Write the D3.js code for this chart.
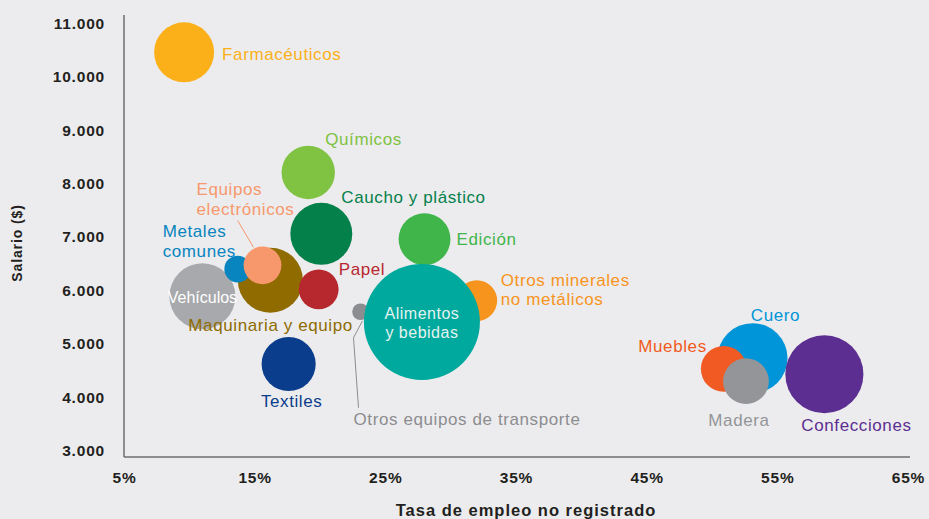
<!DOCTYPE html>
<html>
<head>
<meta charset="utf-8">
<script src="https://cdn.jsdelivr.net/npm/d3@7"></script>
<style>
  html, body { margin: 0; padding: 0; background: #ececee; }
  svg { display: block; }
  text { font-family: "Liberation Sans", Arial, Helvetica, sans-serif; }
</style>
</head>
<body>
<svg id="chart" width="929" height="519"></svg>
<script>
// ---- Data ----
const sectors = ["Farmacéuticos","Químicos","Caucho y plástico","Edición","Vehículos","Maquinaria y equipo","Metales comunes","Equipos electrónicos","Papel","Otros equipos de transporte","Otros minerales no metálicos","Alimentos y bebidas","Textiles","Cuero","Confecciones","Muebles","Madera"];
const informalRate = [9.6, 19.1, 20.1, 28.0, 11.0, 16.2, 13.7, 15.6, 19.9, 23.1, 32.0, 27.8, 17.6, 53.1, 58.6, 50.9, 52.6];
const salary = [10450, 8200, 7050, 6950, 5880, 6180, 6390, 6460, 6010, 5590, 5800, 5400, 4610, 4720, 4420, 4520, 4290];
const employment = [91, 72, 97, 68, 110, 107, 18, 36, 40, 7, 42, 340, 74, 124, 154, 53, 53];
const xTicks = [5, 15, 25, 35, 45, 55, 65];
const yTicks = [3000, 4000, 5000, 6000, 7000, 8000, 9000, 10000, 11000];
const xTitle = "Tasa de empleo no registrado";
const yTitle = "Salario ($)";

// ---- Styles / layout ----
const colors = ["#fbb01a","#80c242","#04804a","#3fb54a","#a7a9ac","#8f6b00","#0884bf","#f7986c","#b7282e","#8c8d90","#f7941d","#00a99d","#0a3d8b","#0095d8","#5c2e91","#f15a22","#939598"];
const labelLayout = {
  "Farmacéuticos": {dx: 38, dy: 2, anchor: "start"},
  "Químicos": {dx: 17, dy: -33, anchor: "start"},
  "Caucho y plástico": {dx: 20, dy: -37, anchor: "start"},
  "Edición": {dx: 32, dy: 0, anchor: "start"},
  "Vehículos": {dx: 0, dy: 1, anchor: "middle", inside: true, color: "#ffffff"},
  "Maquinaria y equipo": {dx: -82, dy: 45, anchor: "start"},
  "Metales comunes": {dx: -75, dy: -38, anchor: "start", lines: ["Metales","comunes"]},
  "Equipos electrónicos": {dx: -66, dy: -76, anchor: "start", lines: ["Equipos","electrónicos"], leader: [[-25,-45],[-9,-18]]},
  "Papel": {dx: 20, dy: -20, anchor: "start"},
  "Otros equipos de transporte": {dx: -7, dy: 107, anchor: "start", leader: [[2,9],[-7,26],[-2,96]]},
  "Otros minerales no metálicos": {dx: 24, dy: -21, anchor: "start", lines: ["Otros minerales","no metálicos"]},
  "Alimentos y bebidas": {dx: 0, dy: -9, anchor: "middle", lines: ["Alimentos","y bebidas"], inside: true, color: "#e4f3f1"},
  "Textiles": {dx: 3, dy: 37, anchor: "middle"},
  "Cuero": {dx: 23, dy: -43, anchor: "middle"},
  "Confecciones": {dx: -23, dy: 51, anchor: "start"},
  "Muebles": {dx: -17, dy: -23, anchor: "end"},
  "Madera": {dx: -7, dy: 39, anchor: "middle"}
};

const data = sectors.map((s, i) => ({name: s, x: informalRate[i], y: salary[i], size: employment[i], color: colors[i]}));

const svg = d3.select("#chart");
const x = d3.scaleLinear().domain([5, 65]).range([124, 908]);
const y = d3.scaleLinear().domain([3000, 11000]).range([450, 23]);
const r = d3.scaleSqrt().domain([0, 340]).range([0, 58]);
const esFormat = d3.formatLocale({decimal: ",", thousands: ".", grouping: [3], currency: ["$", ""]}).format(",");

// Axis lines
svg.append("line")
  .attr("x1", x(5)).attr("x2", x(5))
  .attr("y1", y(11150)).attr("y2", y(2870))
  .attr("stroke", "#6d6e71").attr("stroke-width", 1.5);
svg.append("line")
  .attr("x1", x(5)).attr("x2", x(65.15))
  .attr("y1", y(2870)).attr("y2", y(2870))
  .attr("stroke", "#6d6e71").attr("stroke-width", 1.5);

// Y axis ticks
const yAxis = svg.append("g")
  .attr("transform", `translate(${x(5) - 19},0)`)
  .call(d3.axisLeft(y).tickValues(yTicks).tickSize(0).tickPadding(0).tickFormat(esFormat));
yAxis.select(".domain").remove();
yAxis.selectAll("text")
  .attr("fill", "#231f20").attr("font-size", 15.5).attr("font-weight", "bold")
  .attr("letter-spacing", 0.8).attr("dy", "0.35em")
  .style("font-family", '"Liberation Sans", Arial, sans-serif');

// X axis ticks
const xAxis = svg.append("g")
  .attr("transform", `translate(0,${y(2870) + 15})`)
  .call(d3.axisBottom(x).tickValues(xTicks).tickSize(0).tickPadding(0).tickFormat(d => d + "%"));
xAxis.select(".domain").remove();
xAxis.selectAll("text")
  .attr("fill", "#231f20").attr("font-size", 15.5).attr("font-weight", "bold")
  .attr("letter-spacing", 0.8).attr("dy", "0.71em")
  .style("font-family", '"Liberation Sans", Arial, sans-serif');

// Axis titles
svg.append("text")
  .attr("x", 526).attr("y", 516)
  .attr("text-anchor", "middle")
  .attr("font-size", 16.5).attr("font-weight", "bold").attr("letter-spacing", 1)
  .attr("fill", "#231f20")
  .text(xTitle);
svg.append("text")
  .attr("transform", "translate(17,243) rotate(-90)")
  .attr("text-anchor", "middle").attr("dy", "0.35em")
  .attr("font-size", 14).attr("font-weight", "bold").attr("letter-spacing", 0.9)
  .attr("fill", "#231f20")
  .text(yTitle);

// Leader lines
const leaders = svg.append("g");
data.forEach(d => {
  const L = labelLayout[d.name];
  if (L && L.leader) {
    const cx = x(d.x), cy = y(d.y);
    leaders.append("path")
      .attr("d", d3.line()(L.leader.map(p => [cx + p[0], cy + p[1]])))
      .attr("fill", "none").attr("stroke", d.color).attr("stroke-width", 1);
  }
});

// Bubbles
svg.append("g").selectAll("circle")
  .data(data)
  .join("circle")
  .attr("cx", d => x(d.x))
  .attr("cy", d => y(d.y))
  .attr("r", d => r(d.size))
  .attr("fill", d => d.color);

// Labels
const labels = svg.append("g");
data.forEach(d => {
  const L = labelLayout[d.name];
  const cx = x(d.x), cy = y(d.y);
  const lines = L.lines || [d.name];
  const inside = !!L.inside;
  const t = labels.append("text")
    .attr("x", cx + L.dx)
    .attr("y", cy + L.dy)
    .attr("text-anchor", L.anchor)
    .attr("font-size", inside ? 16 : 17)
    .attr("letter-spacing", d.name === "Vehículos" ? 0 : (inside ? 0.5 : 0.6))
    .attr("fill", L.color || d.color);
  lines.forEach((ln, i) => {
    t.append("tspan")
      .attr("x", cx + L.dx)
      .attr("dy", i === 0 ? "0.35em" : 19.5)
      .text(ln);
  });
});
</script>
</body>
</html>
